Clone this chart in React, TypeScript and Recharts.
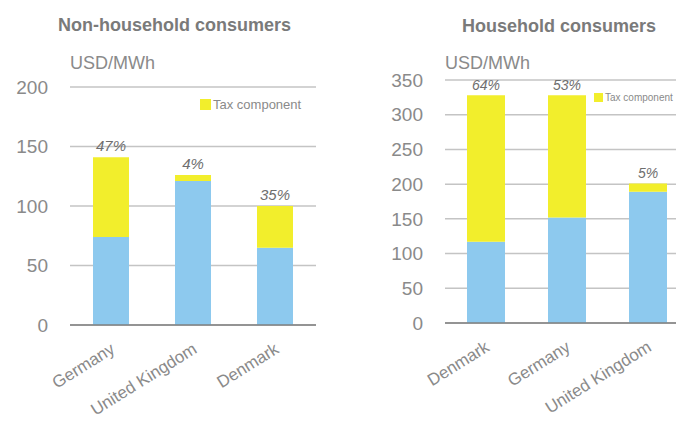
import React from 'react';
import { BarChart, Bar, XAxis, YAxis, CartesianGrid, LabelList, Legend } from 'recharts';

const nonHhCountries = ['Germany', 'United Kingdom', 'Denmark'];
const nonHhBase = [74, 121, 65];
const nonHhTax = [67, 5, 35];
const nonHhPct = ['47%', '4%', '35%'];
const nonHhTicks = [0, 50, 100, 150, 200];

const hhCountries = ['Denmark', 'Germany', 'United Kingdom'];
const hhBase = [117, 152, 189];
const hhTax = [211, 176, 12];
const hhPct = ['64%', '53%', '5%'];
const hhTicks = [0, 50, 100, 150, 200, 250, 300, 350];

const BLUE = '#8DC9EE';
const YELLOW = '#F2EE2C';
const GRAY = '#8A8A8A';
const FONT = '"Liberation Sans", Arial, sans-serif';

const nonHhData = nonHhCountries.map((c, i) => ({ name: c, base: nonHhBase[i], tax: nonHhTax[i], pct: nonHhPct[i] }));
const hhData = hhCountries.map((c, i) => ({ name: c, base: hhBase[i], tax: hhTax[i], pct: hhPct[i] }));

const XTick = (props: any) => {
  const { x, y, payload } = props;
  return (
    <g transform={`translate(${x + 5},${y + 27})`}>
      <text x={0} y={0} textAnchor="end" transform="rotate(-32)" fill={GRAY} fontSize={17} fontFamily={FONT}>
        {payload.value}
      </text>
    </g>
  );
};

const legendContent = (fontSize: number, sq: number) => () => (
  <div style={{ display: 'flex', alignItems: 'center', fontFamily: FONT, fontSize, color: GRAY, whiteSpace: 'nowrap' }}>
    <span style={{ display: 'inline-block', width: sq, height: sq, background: YELLOW, marginRight: 2 }} />
    <span>Tax component</span>
  </div>
);

export default function App() {
  return (
    <div style={{ position: 'absolute', left: 0, top: 0, width: 676, height: 421, overflow: 'hidden', background: '#fff', fontFamily: FONT }}>
      <div style={{ position: 'absolute', left: 0, top: 0, width: 340, height: 421 }}>
        <div style={{ position: 'absolute', left: 58, top: 15, fontSize: 18, fontWeight: 'bold', color: '#7A7A7A', whiteSpace: 'nowrap' }}>Non-household consumers</div>
        <div style={{ position: 'absolute', left: 70, top: 53, fontSize: 18, color: GRAY, whiteSpace: 'nowrap' }}>USD/MWh</div>
        <BarChart width={340} height={421} data={nonHhData} margin={{ top: 87, right: 24, left: 0, bottom: 6 }} barSize={36}>
          <CartesianGrid vertical={false} stroke="#C4C4C4" strokeWidth={1.5} />
          <XAxis dataKey="name" height={90} tickSize={0} tickMargin={0} tickLine={false} axisLine={{ stroke: '#7F7F7F', strokeWidth: 1.5 }} tick={<XTick />} interval={0} />
          <YAxis width={70} domain={[0, 200]} ticks={nonHhTicks} tickSize={0} tickMargin={22} tickLine={false} axisLine={false} tick={{ fill: GRAY, fontSize: 19, fontFamily: FONT }} interval={0} />
          <Legend verticalAlign="middle" layout="horizontal" content={legendContent(13, 11)} wrapperStyle={{ position: 'absolute', left: 200, top: 97, width: 'auto', height: 'auto' }} />
          <Bar dataKey="base" stackId="a" fill={BLUE} legendType="none" isAnimationActive={false} />
          <Bar dataKey="tax" stackId="a" fill={YELLOW} name="Tax component" isAnimationActive={false}>
            <LabelList dataKey="pct" position="top" offset={6} fill="#6E6E6E" fontSize={15} fontStyle="italic" fontFamily={FONT} />
          </Bar>
        </BarChart>
      </div>
      <div style={{ position: 'absolute', left: 340, top: 0, width: 360, height: 421 }}>
        <div style={{ position: 'absolute', left: 122, top: 16, fontSize: 18, fontWeight: 'bold', color: '#7A7A7A', whiteSpace: 'nowrap' }}>Household consumers</div>
        <div style={{ position: 'absolute', left: 105, top: 53, fontSize: 18, color: GRAY, whiteSpace: 'nowrap' }}>USD/MWh</div>
        <BarChart width={360} height={421} data={hhData} margin={{ top: 80, right: 12, left: 0, bottom: 8 }} barSize={38}>
          <CartesianGrid vertical={false} stroke="#C4C4C4" strokeWidth={1.5} />
          <XAxis dataKey="name" height={90} tickSize={0} tickMargin={0} tickLine={false} axisLine={{ stroke: '#7F7F7F', strokeWidth: 1.5 }} tick={<XTick />} interval={0} />
          <YAxis width={105} domain={[0, 350]} ticks={hhTicks} tickSize={0} tickMargin={22} tickLine={false} axisLine={false} tick={{ fill: GRAY, fontSize: 19, fontFamily: FONT }} interval={0} />
          <Legend verticalAlign="middle" layout="horizontal" content={legendContent(10, 9)} wrapperStyle={{ position: 'absolute', left: 254, top: 92, width: 'auto', height: 'auto' }} />
          <Bar dataKey="base" stackId="a" fill={BLUE} legendType="none" isAnimationActive={false} />
          <Bar dataKey="tax" stackId="a" fill={YELLOW} name="Tax component" isAnimationActive={false}>
            <LabelList dataKey="pct" position="top" offset={5} fill="#6E6E6E" fontSize={14} fontStyle="italic" fontFamily={FONT} />
          </Bar>
        </BarChart>
      </div>
    </div>
  );
}
